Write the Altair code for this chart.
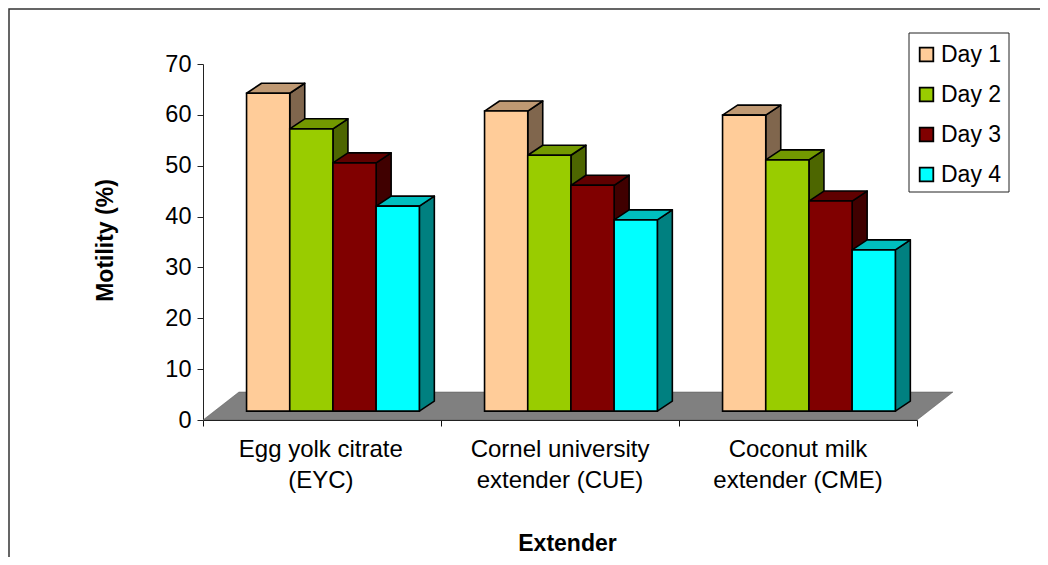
import altair as alt
import pandas as pd

# ---- values ----
categories = ["Egg yolk citrate\n(EYC)", "Cornel university\nextender (CUE)", "Coconut milk\nextender (CME)"]
days = ["Day 1", "Day 2", "Day 3", "Day 4"]
day1 = [62.5, 59.0, 58.2]
day2 = [55.5, 50.3, 49.4]
day3 = [48.8, 44.4, 41.3]
day4 = [40.3, 37.6, 31.7]
front_colors = ["#FFCC99", "#99CC00", "#800000", "#00FFFF"]
top_colors = ["#BF9973", "#739900", "#600000", "#00BFBF"]
side_colors = ["#80664D", "#4D6600", "#400000", "#008080"]
series = [day1, day2, day3, day4]

# ---- 3D projection, in data units ----
FONT = "Liberation Sans"
BAR_START, BAR_W = 0.183, 0.1815
DX, DY = 0.063, 1.97          # bar depth
BASE = 1.75                   # bars stand slightly behind the axis line
FLOOR_DX, FLOOR_DY = 0.151, 5.5

front, tops, sides = [], [], []
for c in range(len(categories)):
    for s, vals in enumerate(series):
        x0 = c + BAR_START + s * BAR_W
        x1 = x0 + BAR_W
        v = vals[c] + BASE
        front.append(dict(x=x0, x2=x1, y=v, y2=BASE, day=days[s]))
        fid = f"{c}-{s}"
        tops += [
            dict(id=fid, x=x0, y=v, y2=v, c=top_colors[s]),
            dict(id=fid, x=x0 + DX, y=v + DY, y2=v, c=top_colors[s]),
            dict(id=fid, x=x1, y=v + DY, y2=v, c=top_colors[s]),
            dict(id=fid, x=x1 + DX, y=v + DY, y2=v + DY, c=top_colors[s]),
        ]
        sides += [
            dict(id=fid, x=x1, y=v, y2=BASE, c=side_colors[s]),
            dict(id=fid, x=x1 + DX, y=v + DY, y2=BASE + DY, c=side_colors[s]),
        ]

floor = pd.DataFrame([
    dict(id="f", x=0, y=0, y2=0),
    dict(id="f", x=FLOOR_DX, y=FLOOR_DY, y2=0),
    dict(id="f", x=3, y=FLOOR_DY, y2=0),
    dict(id="f", x=3 + FLOOR_DX, y=FLOOR_DY, y2=FLOOR_DY),
])

x_scale = alt.Scale(domain=[0, 3], nice=False, zero=False)
y_scale = alt.Scale(domain=[0, 70], nice=False)
x_axis = alt.Axis(values=[0, 1, 2, 3], labels=False, grid=False, tickSize=6, tickColor="#111111",
                  domainColor="#111111", title="Extender", titleFont=FONT, titleFontSize=23,
                  titleFontWeight="bold", titleColor="black", titleX=364, titleY=130,
                  titleAlign="center", titleBaseline="alphabetic")
y_axis = alt.Axis(values=[0, 10, 20, 30, 40, 50, 60, 70], grid=False, tickSize=6, tickColor="#222222",
                  domainColor="#222222", labelFont=FONT, labelFontSize=23.5, labelColor="black",
                  labelPadding=6, title="Motility (%)", titleFont=FONT, titleFontSize=23,
                  titleFontWeight="bold", titleColor="black", titleX=-86, titleY=176,
                  titleAlign="center", titleAngle=270)
X = alt.X("x:Q", scale=x_scale, axis=x_axis)
Y = alt.Y("y:Q", scale=y_scale, axis=y_axis, stack=None)

one = pd.DataFrame({"a": [0]})
frame = alt.Chart(one).mark_rect(
    fill="transparent", stroke="#333333", strokeWidth=1.5
).encode(x=alt.value(-194), x2=alt.value(1000), y=alt.value(-55), y2=alt.value(600))

legend_box = alt.Chart(one).mark_rect(
    fill="white", stroke="#222222", strokeWidth=1
).encode(x=alt.value(706), x2=alt.value(806), y=alt.value(-31), y2=alt.value(128))

floor_layer = alt.Chart(floor).mark_area(
    orient="vertical", fill="#808080", stroke="#555555", strokeWidth=0.5
).encode(x=X, y=Y, y2="y2:Q", detail="id:N")

def faces(rows):
    return alt.Chart(pd.DataFrame(rows)).mark_area(
        orient="vertical", stroke="black", strokeWidth=1.6, strokeJoin="round"
    ).encode(
        x=X, y=Y, y2="y2:Q", detail="id:N",
        fill=alt.Fill("c:N", scale=None, legend=None),
    )

front_layer = alt.Chart(pd.DataFrame(front)).mark_rect(stroke="black", strokeWidth=1.6).encode(
    x=X,
    x2="x2:Q",
    y=Y,
    y2="y2:Q",
    color=alt.Color(
        "day:N",
        scale=alt.Scale(domain=days, range=front_colors),
        legend=alt.Legend(
            orient="none", legendX=712, legendY=-21, title=None, symbolType="square",
            symbolSize=185, symbolStrokeColor="black", symbolStrokeWidth=1.8,
            labelFont=FONT, labelFontSize=23, labelColor="black", labelOffset=3,
            rowPadding=16, padding=0, symbolOpacity=1,
        ),
    ),
)

labels = alt.Chart(pd.DataFrame({"x": [0.495, 1.5, 2.5], "t": categories})).mark_text(
    font=FONT, fontSize=24, color="black", lineBreak="\n", lineHeight=31, baseline="top", align="center"
).encode(
    x=X,
    y=alt.value(374),
    text="t:N",
)

chart = alt.layer(frame, legend_box, floor_layer, faces(sides), faces(tops), front_layer, labels).properties(
    width=714,
    height=356,
    padding={"left": 195, "top": 56, "right": 123, "bottom": 137},
    autosize=alt.AutoSizeParams(type="none"),
    background="white",
).configure_view(stroke=None)

chart.save("out.html", embed_options={"renderer": "svg", "actions": False})
